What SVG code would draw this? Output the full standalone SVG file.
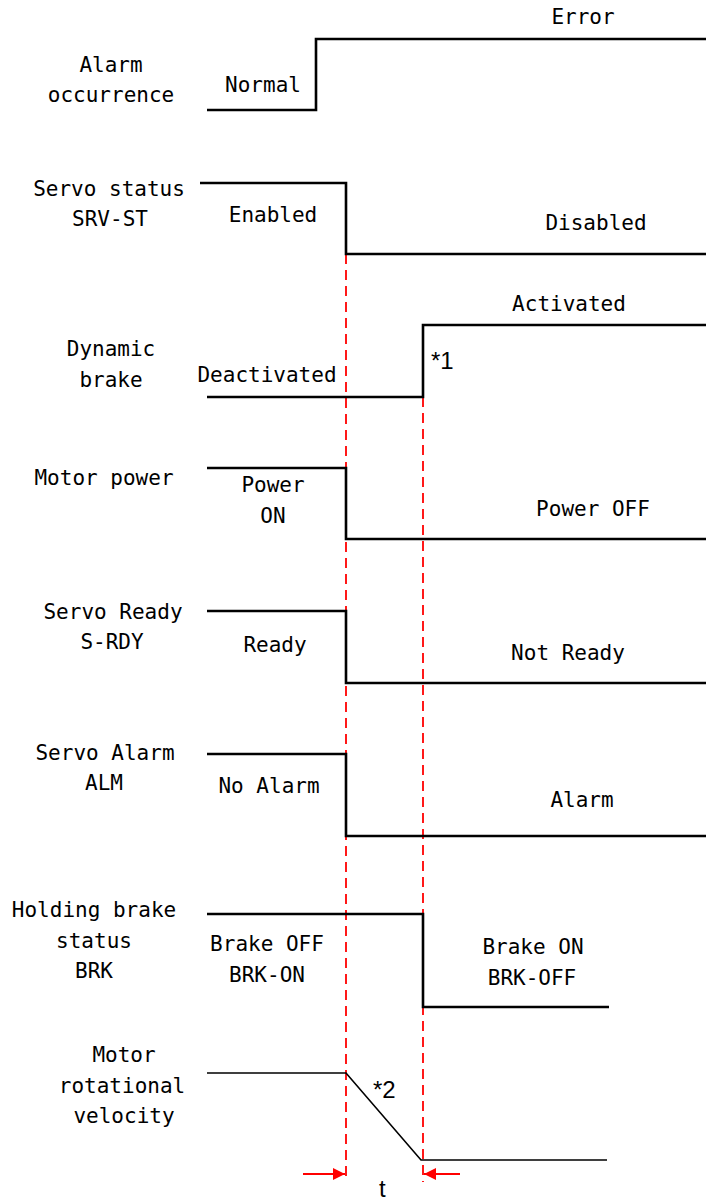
<svg xmlns="http://www.w3.org/2000/svg" width="706" height="1201" viewBox="0 0 706 1201">
<style>
text{font-family:"DejaVu Sans Mono","Liberation Mono",monospace;font-size:21px;fill:#000;text-anchor:middle}
.s{font-family:"Liberation Sans",Arial,sans-serif;font-size:24px;text-anchor:start}
.w{fill:none;stroke:#000;stroke-width:2.6}
.v{fill:none;stroke:#000;stroke-width:1.6}
.d{stroke:#ff0000;stroke-width:1.8;stroke-dasharray:10 6;fill:none}
.a{stroke:#ff0000;stroke-width:1.8;fill:none}
</style>
<defs>
<marker id="ah" viewBox="0 0 10 10" refX="10" refY="5" markerWidth="19" markerHeight="12" markerUnits="userSpaceOnUse" orient="auto">
<path d="M0,0 L10,5 L0,10 z" fill="#ff0000"/>
</marker>
</defs>
<rect width="706" height="1201" fill="#fff"/>
<g id="connectors">
<line class="d" x1="346" y1="254" x2="346" y2="1182"/>
<line class="d" x1="423" y1="397" x2="423" y2="1182"/>
<line class="a" x1="303" y1="1174" x2="345" y2="1174" marker-end="url(#ah)"/>
<line class="a" x1="460" y1="1174" x2="424" y2="1174" marker-end="url(#ah)"/>
<text class="s" x="379" y="1197">t</text>
</g>
<g id="alarm-occurrence">
<text x="111" y="72">Alarm</text>
<text x="111" y="102">occurrence</text>
<polyline class="w" points="207,110 316,110 316,39 706,39"/>
<text x="263" y="92">Normal</text>
<text x="583" y="24">Error</text>
</g>
<g id="servo-status">
<text x="109" y="196">Servo status</text>
<text x="110" y="226">SRV-ST</text>
<polyline class="w" points="200,183 346,183 346,254 706,254"/>
<text x="273" y="222">Enabled</text>
<text x="596" y="230">Disabled</text>
</g>
<g id="dynamic-brake">
<text x="111" y="356">Dynamic</text>
<text x="111" y="387">brake</text>
<polyline class="w" points="207,397 423,397 423,325 706,325"/>
<text x="267" y="382">Deactivated</text>
<text x="569" y="311">Activated</text>
<text class="s" x="431" y="369">*1</text>
</g>
<g id="motor-power">
<text x="104" y="485">Motor power</text>
<polyline class="w" points="207,468 346,468 346,539 706,539"/>
<text x="273" y="492">Power</text>
<text x="273" y="523">ON</text>
<text x="593" y="516">Power OFF</text>
</g>
<g id="servo-ready">
<text x="113" y="619">Servo Ready</text>
<text x="112" y="649">S-RDY</text>
<polyline class="w" points="207,611 346,611 346,683 706,683"/>
<text x="275" y="652">Ready</text>
<text x="568" y="660">Not Ready</text>
</g>
<g id="servo-alarm">
<text x="105" y="760">Servo Alarm</text>
<text x="104" y="790">ALM</text>
<polyline class="w" points="207,754 346,754 346,836 706,836"/>
<text x="269" y="793">No Alarm</text>
<text x="582" y="807">Alarm</text>
</g>
<g id="holding-brake">
<text x="94" y="917">Holding brake</text>
<text x="94" y="948">status</text>
<text x="94" y="978">BRK</text>
<polyline class="w" points="207,914 423,914 423,1007 609,1007"/>
<text x="267" y="951">Brake OFF</text>
<text x="267" y="982">BRK-ON</text>
<text x="533" y="954">Brake ON</text>
<text x="532" y="985">BRK-OFF</text>
</g>
<g id="motor-velocity">
<text x="124" y="1062">Motor</text>
<text x="122" y="1093">rotational</text>
<text x="124" y="1123">velocity</text>
<polyline class="v" points="207,1073 346,1073 421,1160 607,1160"/>
<text class="s" x="373" y="1098">*2</text>
</g>
</svg>
